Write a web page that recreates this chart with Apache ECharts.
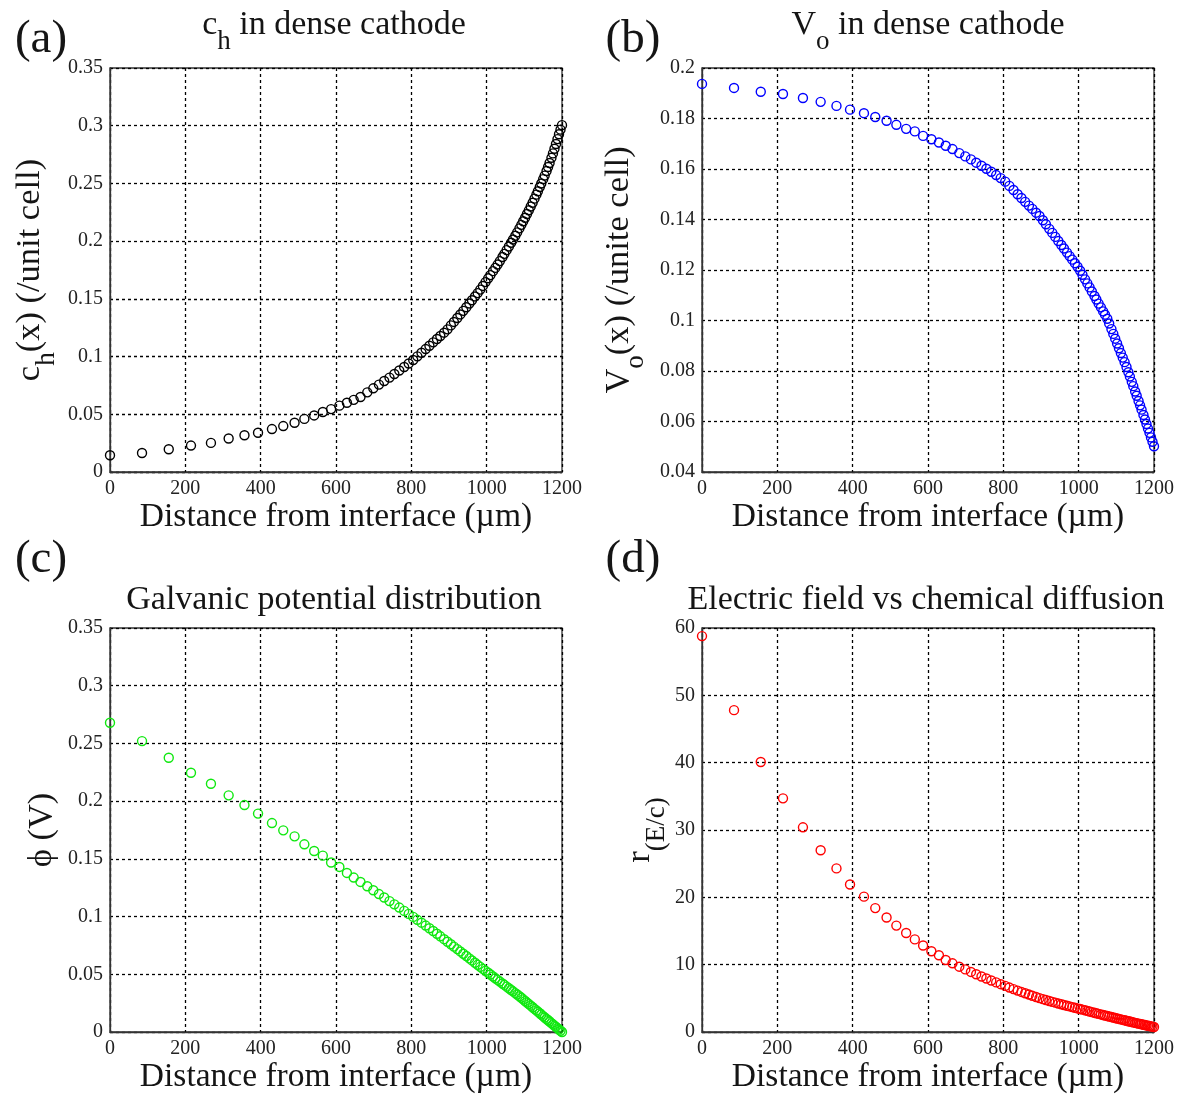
<!DOCTYPE html>
<html><head><meta charset="utf-8">
<script src="https://cdn.jsdelivr.net/npm/echarts@6/dist/echarts.min.js"></script>
<style>html,body{margin:0;padding:0;background:#fff}#c{width:1182px;height:1095px}</style>
</head><body><div id="c"></div>
<script>
// ---- data ----
const xPos = [0,85,156,215,268,315,357,393,430,460,490,516,542,565,587,609,629,647,665,683,
  699,714,728,742,755,768,781,793,805,
  816,827,838,848,858,868,877,887,896,
  905,913,922,930,938,946,954,961,969,976,
  983,990,997,1004,1010,1017,1023,1029,1035,1042,
  1047,1053,1059,1065,1070,1076,1081,1087,1092,1097,
  1102,1107,1112,1117,1122,1127,1132,1136,1141,1145,
  1150,1154,1159,1163,1167,1172,1176,1180,1184,1188,
  1192,1196,1200];

const chH = [0.0145,0.0165,0.0197,0.0229,0.0252,0.0290,0.0318,0.0340,0.0372,0.0398,0.0427,0.0460,0.0490,0.0520,0.0545,0.0575,0.0600,0.0625,0.0650,0.0690,
  0.0725,0.0757,0.0788,0.0818,0.0849,0.0879,0.0910,0.0940,0.0970,
  0.1002,0.1033,0.1065,0.1094,0.1123,0.1152,0.1178,0.1207,0.1236,
  0.1270,0.1300,0.1334,0.1365,0.1396,0.1427,0.1460,0.1488,0.1521,0.1550,
  0.1580,0.1612,0.1645,0.1678,0.1706,0.1740,0.1768,0.1797,0.1827,0.1863,
  0.1890,0.1922,0.1954,0.1986,0.2014,0.2047,0.2076,0.2111,0.2141,0.2172,
  0.2203,0.2235,0.2267,0.2300,0.2333,0.2368,0.2403,0.2432,0.2469,0.2499,
  0.2537,0.2568,0.2608,0.2642,0.2677,0.2722,0.2760,0.2800,0.2842,0.2884,
  0.2926,0.2966,0.3005];

const vO = [0.1937,0.1921,0.1906,0.1897,0.1881,0.1866,0.1850,0.1835,0.1821,0.1806,0.1791,0.1775,0.1759,0.1749,0.1731,0.1718,0.1705,0.1692,0.1679,0.1663,
  0.1650,0.1638,0.1625,0.1613,0.1601,0.1589,0.1576,0.1564,0.1550,
  0.1533,0.1517,0.1500,0.1485,0.1470,0.1455,0.1442,0.1427,0.1414,
  0.1397,0.1381,0.1363,0.1347,0.1331,0.1315,0.1299,0.1285,0.1269,0.1255,
  0.1241,0.1227,0.1213,0.1197,0.1181,0.1163,0.1147,0.1131,0.1115,0.1097,
  0.1083,0.1067,0.1052,0.1036,0.1023,0.1007,0.0988,0.0966,0.0947,0.0928,
  0.0909,0.0890,0.0871,0.0853,0.0835,0.0816,0.0795,0.0778,0.0757,0.0740,
  0.0719,0.0702,0.0681,0.0664,0.0647,0.0626,0.0608,0.0590,0.0572,0.0555,
  0.0537,0.0520,0.0502];

const phi = [0.2679,0.2520,0.2376,0.2246,0.2151,0.2050,0.1966,0.1892,0.1810,0.1747,0.1695,0.1626,0.1568,0.1528,0.1468,0.1430,0.1378,0.1338,0.1300,0.1263,
  0.1228,0.1195,0.1165,0.1134,0.1106,0.1078,0.1049,0.1023,0.0997,
  0.0972,0.0947,0.0922,0.0899,0.0875,0.0851,0.0829,0.0804,0.0782,
  0.0760,0.0740,0.0718,0.0698,0.0678,0.0658,0.0638,0.0620,0.0600,0.0582,
  0.0564,0.0547,0.0530,0.0513,0.0498,0.0481,0.0466,0.0452,0.0437,0.0420,
  0.0408,0.0393,0.0379,0.0364,0.0352,0.0337,0.0325,0.0310,0.0297,0.0283,
  0.0269,0.0255,0.0242,0.0228,0.0214,0.0200,0.0187,0.0176,0.0162,0.0151,
  0.0137,0.0126,0.0113,0.0102,0.0091,0.0077,0.0066,0.0055,0.0044,0.0033,
  0.0022,0.0011,0.0000];

const rEc = [58.8,47.8,40.1,34.7,30.4,27.0,24.3,21.9,20.1,18.4,17.0,15.8,14.7,13.75,12.85,12.0,11.4,10.7,10.2,9.7,
  9.30,8.92,8.58,8.25,7.95,7.65,7.37,7.10,6.85,
  6.60,6.37,6.15,5.95,5.75,5.56,5.39,5.20,5.03,
  4.88,4.75,4.61,4.48,4.36,4.24,4.12,4.01,3.90,3.80,
  3.70,3.60,3.50,3.41,3.32,3.22,3.13,3.04,2.95,2.85,
  2.78,2.69,2.61,2.52,2.45,2.37,2.30,2.22,2.15,2.08,
  2.01,1.94,1.87,1.80,1.74,1.67,1.60,1.55,1.48,1.43,
  1.36,1.31,1.25,1.20,1.14,1.08,1.03,0.98,0.93,0.88,
  0.84,0.79,0.75];

// axis ranges [min, max, interval]
const xRange = [0, 1200, 200];
const yRangeA = [0, 0.35, 0.05];
const yRangeB = [0.04, 0.2, 0.02];
const yRangeC = [0, 0.35, 0.05];
const yRangeD = [0, 60, 10];

const xName = 'Distance from interface (\u00b5m)';
const titles = ['{m|c}{s|h}{m| in dense cathode}', '{m|V}{s|o}{m| in dense cathode}',
                '{m|Galvanic potential distribution}', '{m|Electric field vs chemical diffusion}'];
const yNames = ['{m|c}{s|h}{m|(x) (/unit cell)}', '{m|V}{s|o}{m|(x) (/unite cell)}',
                '{m|\u03d5 (V)}', '{m|r}{s|(E/c)}'];
const letters = ['(a)', '(b)', '(c)', '(d)'];

// ---- layout / style ----
const FONT = 'Liberation Serif';
const TXT = '#151515';
const panels = [
  {left:110, top:68, y:yRangeA, data:chH, color:'#000000', gap:50, tx:334, ty:25, lx:41, ly:40},
  {left:702, top:68, y:yRangeB, data:vO,  color:'#0000ff', gap:53, tx:928, ty:25, lx:633, ly:40},
  {left:110, top:628, y:yRangeC, data:phi, color:'#10e810', gap:51, tx:334, ty:600, lx:41, ly:560},
  {left:702, top:628, y:yRangeD, data:rEc, color:'#ff0000', gap:32, tx:926, ty:600, lx:633, ly:560}
];
const W = 452, H = 404;

const richAxis = {
  m: {fontFamily: FONT, fontSize: 34.5, color: TXT},
  s: {fontFamily: FONT, fontSize: 27, color: TXT, padding: [34, 0, 0, 0]}
};
const richG = {
  m: {fontFamily: FONT, fontSize: 34, fill: TXT},
  s: {fontFamily: FONT, fontSize: 27, fill: TXT, padding: [34, 0, 0, 0]}
};
const splitStyle = {show: true, lineStyle: {color: '#000', type: [3, 3], width: 1.3}};
const axisLineStyle = {show: true, onZero: false, lineStyle: {color: '#333', width: 1.3}};
const labelStyle = {fontFamily: FONT, fontSize: 20, color: '#222'};

const option = {
  animation: false,
  backgroundColor: '#fff',
  grid: panels.map(p => ({left: p.left, top: p.top, width: W, height: H, show: true,
      borderColor: '#333', borderWidth: 1.3, backgroundColor: 'transparent', containLabel: false})),
  xAxis: panels.map((p, i) => ({
    gridIndex: i, type: 'value', min: xRange[0], max: xRange[1], interval: xRange[2],
    name: xName, nameLocation: 'middle', nameGap: 27,
    nameTextStyle: {fontFamily: FONT, fontSize: 33.5, color: TXT},
    axisLine: axisLineStyle, axisTick: {show: false},
    axisLabel: Object.assign({margin: 7, formatter: v => String(v)}, labelStyle),
    splitLine: splitStyle
  })),
  yAxis: panels.map((p, i) => ({
    gridIndex: i, type: 'value', min: p.y[0], max: p.y[1], interval: p.y[2],
    name: yNames[i], nameLocation: 'middle', nameGap: p.gap, nameRotate: 90,
    nameTextStyle: {rich: richAxis, fontFamily: FONT, fontSize: 34.5, color: TXT},
    axisLine: axisLineStyle, axisTick: {show: false},
    axisLabel: Object.assign({margin: 7}, labelStyle),
    splitLine: splitStyle
  })),
  series: panels.map((p, i) => ({
    type: 'scatter', xAxisIndex: i, yAxisIndex: i,
    data: xPos.map((x, k) => [x, p.data[k]]),
    symbol: 'circle', symbolSize: 9,
    itemStyle: {color: 'rgba(0,0,0,0)', borderColor: p.color, borderWidth: 1.4, opacity: 1},
    silent: true, clip: false
  })),
  graphic: panels.map((p, i) => ({
    type: 'text', x: p.tx, y: p.ty, silent: true,
    style: {text: titles[i], rich: richG, fontFamily: FONT, fontSize: 34, fill: TXT,
            align: 'center', verticalAlign: 'middle'}
  })).concat(panels.map((p, i) => ({
    type: 'text', x: p.lx, y: p.ly, silent: true,
    style: {text: letters[i], fontFamily: FONT, fontSize: 47, fill: TXT,
            align: 'center', verticalAlign: 'middle'}
  })))
};

const chart = echarts.init(document.getElementById('c'), null, {renderer: 'canvas'});
chart.setOption(option);
</script>
</body></html>
